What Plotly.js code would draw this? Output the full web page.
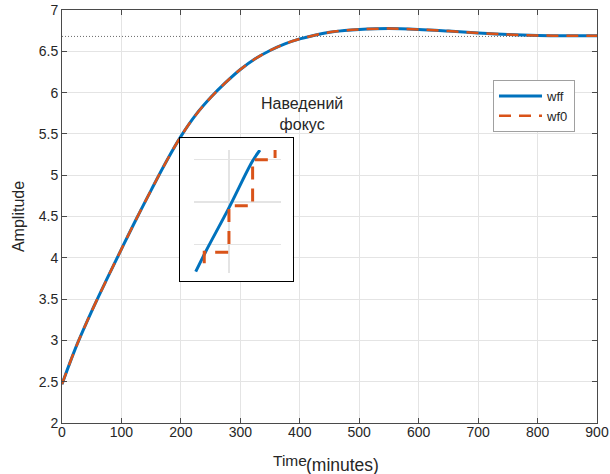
<!DOCTYPE html>
<html>
<head>
<meta charset="utf-8">
<script src="https://cdn.plot.ly/plotly-3.0.1.min.js"></script>
<style>html,body{margin:0;padding:0;background:#fff;}#chart{width:610px;height:474px;}</style>
</head>
<body>
<div id="chart"></div>
<script>
// ---- main step response data ----
const timeMin = [0, 25, 50, 75, 100, 125, 150, 175, 200, 225, 250, 275, 300, 325, 350, 375, 400, 425, 450, 475, 500, 550, 600, 650, 700, 750, 800, 850, 900];
const wff     = [2.47, 2.945, 3.355, 3.735, 4.105, 4.47, 4.82, 5.16, 5.47, 5.73, 5.94, 6.12, 6.28, 6.41, 6.51, 6.59, 6.65, 6.695, 6.73, 6.752, 6.765, 6.775, 6.765, 6.745, 6.722, 6.703, 6.692, 6.688, 6.688];
const wf0     = [2.47, 2.945, 3.355, 3.735, 4.105, 4.47, 4.82, 5.16, 5.47, 5.73, 5.94, 6.12, 6.28, 6.41, 6.51, 6.59, 6.65, 6.695, 6.73, 6.752, 6.765, 6.775, 6.765, 6.745, 6.722, 6.703, 6.692, 6.688, 6.688];
const steadyX = [0, 900];
const steadyY = [6.68, 6.68];

// ---- inset (zoomed focus) data ----
const insetTimeWff = [198.10, 198.67, 199.97, 201.35, 201.79];
const insetWff     = [5.4236, 5.4283, 5.4383, 5.4495, 5.4522];
const insetTimeWf0 = [198.59, 200.01, 201.37, 202.66, 202.66];
const insetWf0     = [5.4256, 5.4282, 5.4391, 5.4499, 5.4522];

// ---- labels ----
const seriesNames = ['wff', 'wf0'];
const yTickVals = [2, 2.5, 3, 3.5, 4, 4.5, 5, 5.5, 6, 6.5, 7];
const xTickVals = [0, 100, 200, 300, 400, 500, 600, 700, 800, 900];
const insetText = 'Наведений<br>фокус';

const BLUE = '#0072BD', ORANGE = '#D95319', AX = '#4a4a4a', GRID = '#e4e4e4', TXT = '#262626';
const FONT = 'Liberation Sans, Arial, sans-serif';

const traces = [
  {x: steadyX, y: steadyY, type: 'scatter', mode: 'lines', showlegend: false, hoverinfo: 'skip',
   line: {color: '#6a6a6a', width: 1, dash: '1px,2px'}},
  {x: timeMin, y: wff, name: seriesNames[0], type: 'scatter', mode: 'lines',
   line: {color: BLUE, width: 3, shape: 'spline', smoothing: 1}},
  {x: timeMin, y: wf0, name: seriesNames[1], type: 'scatter', mode: 'lines',
   line: {color: ORANGE, width: 2.5, dash: '12px,8px', shape: 'spline', smoothing: 1}},
  {x: [], y: [], xaxis: 'x2', yaxis: 'y2', type: 'scatter', showlegend: false, hoverinfo: 'skip'},
  {x: insetTimeWff, y: insetWff, xaxis: 'x3', yaxis: 'y3', type: 'scatter', mode: 'lines', showlegend: false,
   line: {color: BLUE, width: 3, shape: 'spline'}},
  {x: insetTimeWf0, y: insetWf0, xaxis: 'x3', yaxis: 'y3', type: 'scatter', mode: 'lines', showlegend: false,
   line: {color: ORANGE, width: 3, dash: '13px,9px', shape: 'vh'}}
];

const layout = {
  width: 610, height: 474,
  margin: {l: 62, r: 13, t: 10, b: 51},
  paper_bgcolor: '#fff', plot_bgcolor: '#fff',
  font: {family: FONT, size: 14, color: TXT},
  showlegend: true,
  legend: {x: 0.8056, y: 0.8305, xanchor: 'left', yanchor: 'top', bgcolor: '#fff',
           bordercolor: '#a0a0a0', borderwidth: 1, font: {family: FONT, size: 13, color: TXT},
           tracegroupgap: 0, itemwidth: 43},
  xaxis: {range: [0, 900], tickvals: xTickVals, showgrid: true, gridcolor: GRID, gridwidth: 1,
          zeroline: false, showline: true, linecolor: AX, linewidth: 1, mirror: 'allticks',
          ticks: 'inside', ticklen: 5, tickcolor: AX, tickfont: {size: 14, color: TXT}, ticklabelstandoff: -4},
  yaxis: {range: [2, 7], tickvals: yTickVals, showgrid: true, gridcolor: GRID, gridwidth: 1,
          zeroline: false, showline: true, linecolor: AX, linewidth: 1, mirror: 'allticks',
          ticks: 'inside', ticklen: 5, tickcolor: AX, tickfont: {size: 14, color: TXT},
          title: {text: 'Amplitude', font: {size: 16, color: TXT}, standoff: 10}},
  xaxis2: {domain: [0.2206, 0.4312], anchor: 'y2', range: [0, 1], showgrid: false, zeroline: false,
           showticklabels: false, ticks: '', showline: true, mirror: true, linecolor: '#000', linewidth: 1.2},
  yaxis2: {domain: [0.3438, 0.6893], anchor: 'x2', range: [0, 1], showgrid: false, zeroline: false,
           showticklabels: false, ticks: '', showline: true, mirror: true, linecolor: '#000', linewidth: 1.2},
  xaxis3: {domain: [0.2467, 0.4093], anchor: 'y3', range: [198, 203], tickvals: [200], showgrid: true,
           gridcolor: GRID, gridwidth: 1.5, zeroline: false, showticklabels: false, ticks: '', showline: false},
  yaxis3: {domain: [0.3632, 0.6610], anchor: 'x3', range: [5.4233, 5.4522], tickvals: [5.43, 5.44, 5.45],
           showgrid: true, gridcolor: GRID, gridwidth: 1.5, zeroline: false, showticklabels: false, ticks: '', showline: false},
  annotations: [
    {xref: 'paper', yref: 'paper', x: 0.4495, y: 0.747, text: insetText, showarrow: false,
     xanchor: 'center', yanchor: 'middle', font: {size: 16, color: TXT}},
    {xref: 'paper', yref: 'paper', x: 0.4271, y: -0.092, text: 'Time', showarrow: false,
     xanchor: 'center', yanchor: 'middle', font: {size: 15.5, color: TXT}},
    {xref: 'paper', yref: 'paper', x: 0.5243, y: -0.1017, text: '(minutes)', showarrow: false,
     xanchor: 'center', yanchor: 'middle', font: {size: 17.5, color: TXT}}
  ]
};

Plotly.newPlot('chart', traces, layout, {staticPlot: true, displayModeBar: false});
</script>
</body>
</html>
